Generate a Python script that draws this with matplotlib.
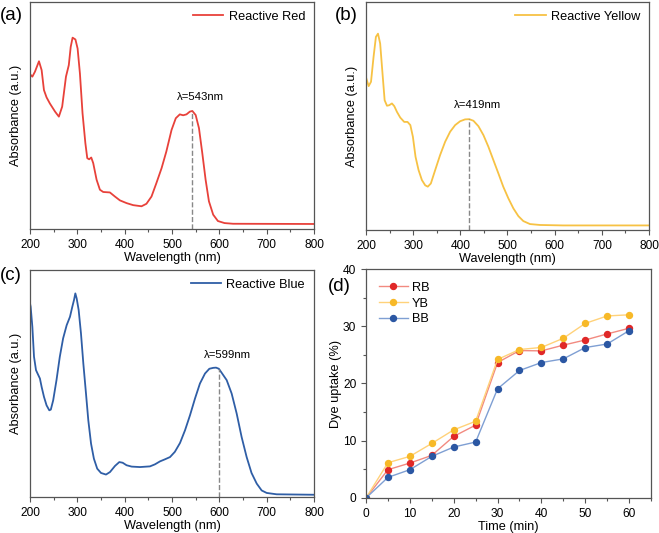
import numpy as np
import matplotlib
matplotlib.use('Agg')
import matplotlib.pyplot as plt
from matplotlib.ticker import MultipleLocator, NullLocator

plt.rcParams['font.family'] = ['Liberation Sans', 'DejaVu Sans']
plt.rcParams['font.size'] = 8.6

# spectra, absorbance in arbitrary units
red_nm = [200, 205, 210.5, 219, 224.6, 229.5, 235, 242, 253, 261, 268, 276, 282, 286, 290, 296,
          300.6, 305.5, 311, 317, 321, 325, 329.4, 333.6, 340.7, 347.7, 354.7, 368.8, 379.4, 390,
          404, 418, 435.6, 446, 456.7, 467, 478, 488, 499, 508, 516.5, 523.6, 530.6, 537.6, 543,
          550, 557, 564, 571, 578, 587, 597, 611, 629, 800]
red_abs = [0.682, 0.671, 0.693, 0.739, 0.700, 0.612, 0.580, 0.553, 0.517, 0.495, 0.539, 0.671,
           0.722, 0.802, 0.843, 0.835, 0.795, 0.685, 0.510, 0.378, 0.312, 0.307, 0.315, 0.290,
           0.217, 0.173, 0.163, 0.161, 0.143, 0.126, 0.114, 0.105, 0.100, 0.111, 0.143, 0.202,
           0.268, 0.341, 0.436, 0.488, 0.505, 0.501, 0.505, 0.517, 0.520, 0.502, 0.444, 0.334,
           0.217, 0.122, 0.063, 0.035, 0.026, 0.023, 0.022]

yel_nm = [200, 205.6, 210.6, 216, 221, 225.4, 230, 235, 239.5, 244.4, 249, 255, 260, 265.6, 272.6,
          281, 288, 294, 299.4, 305, 311.4, 318.5, 325.5, 331, 337.5, 346.7, 357, 367.8, 378.4, 389,
          399.6, 410, 419, 427.8, 438.4, 449, 459.5, 470, 480.7, 491, 501.8, 512.4, 523, 533.6,
          547.7, 568.8, 618, 800]
yel_abs = [0.669, 0.631, 0.650, 0.759, 0.847, 0.861, 0.818, 0.686, 0.569, 0.545, 0.547, 0.555,
           0.543, 0.518, 0.493, 0.474, 0.474, 0.460, 0.409, 0.321, 0.263, 0.219, 0.196, 0.190,
           0.204, 0.263, 0.328, 0.387, 0.431, 0.460, 0.477, 0.485, 0.486, 0.479, 0.455, 0.416,
           0.365, 0.307, 0.248, 0.190, 0.139, 0.095, 0.061, 0.039, 0.026, 0.022, 0.020, 0.020]

blu_nm = [200, 201.4, 205, 208.5, 212.7, 217.6, 221, 224.6, 229.6, 235, 240.8, 244, 249, 256, 263,
          270, 277.5, 284.5, 289.4, 293, 295.8, 298.6, 302.8, 307.7, 312.7, 318.3, 323.2, 329, 335,
          342, 350, 360.6, 369, 379.6, 388.7, 395.8, 404, 414.8, 432.4, 453.5, 464, 474.6, 485,
          495.8, 506, 516.9, 527.5, 538, 548.6, 559, 569.7, 578.9, 587, 593, 599, 605, 615.5, 626,
          636.6, 647, 657.7, 668, 679, 689.4, 700, 721, 800]
blu_abs = [0.853, 0.838, 0.750, 0.618, 0.559, 0.537, 0.522, 0.485, 0.441, 0.404, 0.382, 0.385,
           0.426, 0.515, 0.618, 0.699, 0.757, 0.794, 0.838, 0.868, 0.897, 0.875, 0.824, 0.721,
           0.588, 0.456, 0.338, 0.235, 0.169, 0.125, 0.106, 0.099, 0.110, 0.137, 0.154, 0.151,
           0.140, 0.134, 0.132, 0.135, 0.144, 0.157, 0.166, 0.176, 0.199, 0.238, 0.294, 0.360,
           0.434, 0.500, 0.544, 0.565, 0.569, 0.570, 0.565, 0.547, 0.515, 0.456, 0.368, 0.265,
           0.176, 0.106, 0.059, 0.029, 0.018, 0.012, 0.010]

peaks = [543, 419, 599]
peak_abs = [0.520, 0.486, 0.565]

# dye uptake
time_min = [0, 5, 10, 15, 20, 25, 30, 35, 40, 45, 50, 55, 60]
rb = [0, 4.94, 6.1, 7.44, 10.76, 12.73, 23.66, 25.75, 25.7, 26.7, 27.6, 28.66, 29.65]
yb = [0, 6.16, 7.27, 9.53, 11.9, 13.4, 24.2, 25.93, 26.3, 27.9, 30.5, 31.8, 32.0]
bb = [0, 3.6, 4.94, 7.27, 8.9, 9.77, 19.07, 22.27, 23.66, 24.3, 26.28, 26.9, 29.24]

frame = '#555555'

fig = plt.figure(figsize=(6.59, 5.33), dpi=100)
ax_a = fig.add_axes([0.0455, 0.5704, 0.431, 0.4258])
ax_b = fig.add_axes([0.5554, 0.5685, 0.4294, 0.4278])
ax_c = fig.add_axes([0.0455, 0.0675, 0.431, 0.4259])
ax_d = fig.add_axes([0.5554, 0.0657, 0.4325, 0.4296])


def style(ax):
    for s in ax.spines.values():
        s.set_color(frame)
        s.set_linewidth(0.9)
    ax.tick_params(which='both', direction='out', color=frame, width=0.8)
    ax.tick_params(which='major', length=3.5)
    ax.tick_params(which='minor', length=2)


specs = [(ax_a, red_nm, red_abs, '#e8413a', 'Reactive Red'),
         (ax_b, yel_nm, yel_abs, '#f7c244', 'Reactive Yellow'),
         (ax_c, blu_nm, blu_abs, '#2f5ea6', 'Reactive Blue')]

for i, (ax, x, y, col, name) in enumerate(specs):
    ax.plot(x, y, color=col, lw=1.3, label=name)
    ax.vlines(peaks[i], 0, peak_abs[i], colors='#888888', linestyles='--', lw=1)
    ax.annotate('λ=%dnm' % peaks[i], (peaks[i], peak_abs[i]), xytext=(6, 10),
                textcoords='offset points', ha='center', va='center', fontsize=8.2)
    ax.set_xlim(200, 800)
    ax.set_ylim(0, 1)
    ax.xaxis.set_major_locator(MultipleLocator(100))
    ax.xaxis.set_minor_locator(MultipleLocator(50))
    ax.yaxis.set_major_locator(NullLocator())
    ax.set_xlabel('Wavelength (nm)', fontsize=9.2, labelpad=1)
    ax.set_ylabel('Absorbance (a.u.)', fontsize=9.2, labelpad=6)
    style(ax)
    ax.legend(loc='upper right', frameon=False, handlelength=2.4, handletextpad=0.4,
              fontsize=9.2, borderaxespad=0.3)

fig.text(0.0, 0.97, '(a)', fontsize=13.5, va='center')
fig.text(0.508, 0.97, '(b)', fontsize=13.5, va='center')
fig.text(0.0, 0.484, '(c)', fontsize=13.5, va='center')
fig.text(0.497, 0.463, '(d)', fontsize=13.5, va='center')

series = [(rb, 'RB', '#f28a80', '#e02828'),
          (yb, 'YB', '#ffd27a', '#f7b928'),
          (bb, 'BB', '#7f9fd3', '#2b57a3')]
for vals, name, lc, mc in series:
    ax_d.plot(time_min, vals, color=lc, lw=1.0, marker='o', ms=4.3,
              mfc=mc, mec=mc, label=name)
ax_d.set_xlim(0, 65)
ax_d.set_ylim(0, 40)
ax_d.xaxis.set_major_locator(MultipleLocator(10))
ax_d.xaxis.set_minor_locator(MultipleLocator(5))
ax_d.yaxis.set_major_locator(MultipleLocator(10))
ax_d.yaxis.set_minor_locator(MultipleLocator(5))
ax_d.set_xlabel('Time (min)', fontsize=9.2, labelpad=1)
ax_d.set_ylabel('Dye uptake (%)', fontsize=9.2, labelpad=1)
style(ax_d)
ax_d.legend(loc='upper left', frameon=False, handlelength=2.3, handletextpad=0.3,
            fontsize=9.2, labelspacing=0.3, borderaxespad=0.6)

fig.savefig('out.png', dpi=100)
